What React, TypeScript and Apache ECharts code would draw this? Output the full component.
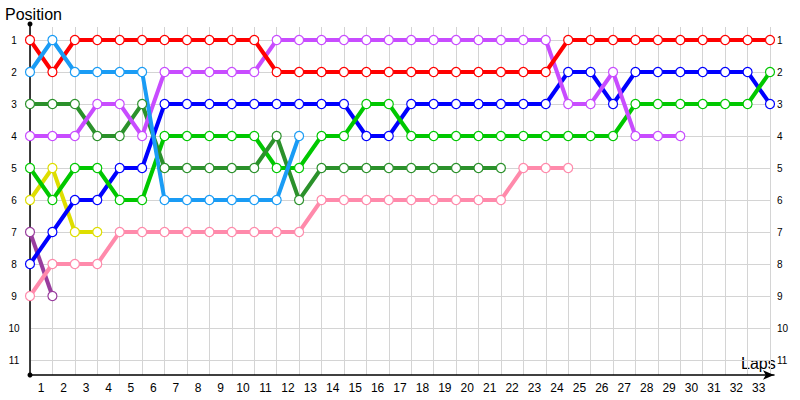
import React, { useEffect, useRef } from 'react';
import * as echarts from 'echarts';

const lapLabels = ['1','2','3','4','5','6','7','8','9','10','11','12','13','14','15','16','17','18','19','20','21','22','23','24','25','26','27','28','29','30','31','32','33'];

// Positions per lap, starting at lap 0 (grid start)
const redPos = [1,2,1,1,1,1,1,1,1,1,1,2,2,2,2,2,2,2,2,2,2,2,2,2,1,1,1,1,1,1,1,1,1,1];
const lightBluePos = [2,1,2,2,2,2,6,6,6,6,6,6,4];
const darkGreenPos = [3,3,3,4,4,3,5,5,5,5,5,4,6,5,5,5,5,5,5,5,5,5];
const violetPos = [4,4,4,3,3,4,2,2,2,2,2,1,1,1,1,1,1,1,1,1,1,1,1,1,3,3,2,4,4,4];
const bluePos = [8,7,6,6,5,5,3,3,3,3,3,3,3,3,3,4,4,3,3,3,3,3,3,3,2,2,3,2,2,2,2,2,2,3];
const greenPos = [5,6,5,5,6,6,4,4,4,4,4,5,5,4,4,3,3,4,4,4,4,4,4,4,4,4,4,3,3,3,3,3,3,2];
const yellowPos = [6,5,7,7];
const pinkPos = [9,8,8,8,7,7,7,7,7,7,7,7,7,6,6,6,6,6,6,6,6,6,5,5,5];
const plumPos = [7,9];

const seriesDefs = [
  { name: 'Plum', color: '#993d9e', data: plumPos },
  { name: 'Pink', color: '#ff8aab', data: pinkPos },
  { name: 'Yellow', color: '#dede00', data: yellowPos },
  { name: 'Blue', color: '#0000ff', data: bluePos },
  { name: 'Green', color: '#00c800', data: greenPos },
  { name: 'DarkGreen', color: '#2b912b', data: darkGreenPos },
  { name: 'Violet', color: '#c84cff', data: violetPos },
  { name: 'Red', color: '#ff0000', data: redPos },
  { name: 'LightBlue', color: '#1a9cf5', data: lightBluePos },
];

const FONT = 'Liberation Sans';

export default function App() {
  const ref = useRef<HTMLDivElement>(null);
  useEffect(() => {
    const chart = echarts.init(ref.current!, null, { renderer: 'svg' });
    const gridColor = '#d4d4d4';
    chart.setOption({
      animation: false,
      backgroundColor: '#fff',
      grid: [
        { left: 30, right: 30, top: 40, bottom: 40 },
        { left: 30, right: 30, top: 27, bottom: 25 },
        { left: 30, right: 26, top: 24, bottom: 25 },
      ],
      xAxis: [
        { gridIndex: 0, type: 'value', min: 0, max: 33, interval: 1, show: false },
        {
          gridIndex: 1, type: 'value', min: 0, max: 33, interval: 1,
          axisLine: { show: false }, axisTick: { show: false }, axisLabel: { show: false },
          splitLine: { show: true, lineStyle: { color: gridColor, width: 1 } },
        },
        {
          gridIndex: 1, type: 'category', data: lapLabels, boundaryGap: true, position: 'bottom',
          axisLine: { show: false }, axisTick: { show: false }, splitLine: { show: false },
          axisLabel: { interval: 0, margin: 7, color: '#000', fontSize: 12, fontFamily: FONT },
        },
        {
          gridIndex: 2, type: 'value', min: 0, max: 1,
          axisLine: { show: true, onZero: false, lineStyle: { color: '#000', width: 1.5 }, symbol: ['none', 'arrow'], symbolSize: [7, 11] },
          axisTick: { show: false }, axisLabel: { show: false }, splitLine: { show: false },
        },
      ],
      yAxis: [
        {
          gridIndex: 0, type: 'value', min: 1, max: 11, interval: 1, inverse: true, position: 'left',
          axisLine: { show: false }, axisTick: { show: false },
          axisLabel: { align: 'center', margin: 16, fontSize: 10, color: '#000', fontFamily: FONT },
          splitLine: { show: true, lineStyle: { color: gridColor, width: 1 } },
        },
        {
          gridIndex: 0, type: 'value', min: 1, max: 11, interval: 1, inverse: true, position: 'right',
          axisLine: { show: false }, axisTick: { show: false },
          axisLabel: { align: 'left', margin: 7, fontSize: 10, color: '#000', fontFamily: FONT },
          splitLine: { show: false },
        },
        { gridIndex: 1, type: 'value', show: false },
        {
          gridIndex: 2, type: 'value', min: 0, max: 1,
          axisLine: { show: true, onZero: false, lineStyle: { color: '#000', width: 1.5 }, symbol: ['circle', 'circle'], symbolSize: [5, 5] },
          axisTick: { show: false }, axisLabel: { show: false }, splitLine: { show: false },
        },
      ],
      graphic: [
        { type: 'text', left: 5, top: 6, style: { text: 'Position', fontSize: 16, fill: '#000', fontFamily: FONT } },
        { type: 'text', left: 741, top: 355, style: { text: 'Laps', fontSize: 16, fill: '#000', fontFamily: FONT } },
      ],
      series: seriesDefs.map((s) => ({
        name: s.name,
        type: 'line',
        xAxisIndex: 0,
        yAxisIndex: 0,
        data: s.data.map((p, i) => [i, p]),
        color: s.color,
        symbol: 'circle',
        symbolSize: 9,
        showSymbol: true,
        lineStyle: { color: s.color, width: 4 },
        itemStyle: { color: '#fff', borderColor: s.color, borderWidth: 1.2 },
        emphasis: { disabled: true },
      })),
    });
    return () => chart.dispose();
  }, []);
  return <div ref={ref} style={{ position: 'absolute', left: 0, top: 0, width: 800, height: 400 }} />;
}
